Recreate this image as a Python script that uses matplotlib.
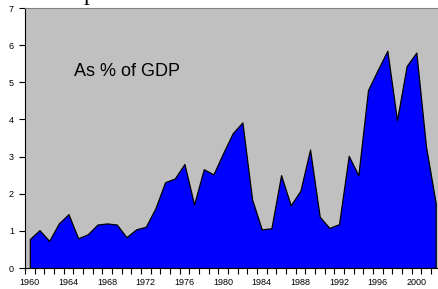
import numpy as np
import matplotlib.pyplot as plt

# data (% of GDP)
years = list(range(1960, 2003))
values = [0.78, 1.02, 0.73, 1.20, 1.45, 0.80, 0.91, 1.17, 1.20, 1.17,
          0.83, 1.04, 1.11, 1.61, 2.31, 2.41, 2.80, 1.71, 2.66, 2.52,
          3.09, 3.63, 3.92, 1.85, 1.04, 1.07, 2.50, 1.69, 2.08, 3.19,
          1.38, 1.08, 1.18, 3.02, 2.50, 4.79, 5.33, 5.85, 3.98, 5.44,
          5.80, 3.27, 1.75]
label_years = [1960, 1964, 1968, 1972, 1976, 1980, 1984, 1988, 1992, 1996, 2000]
y_ticks = [0, 1, 2, 3, 4, 5, 6, 7]

W, H = 439, 289
fig = plt.figure(figsize=(W / 100, H / 100), dpi=100)
plt.rcParams['font.family'] = ['Liberation Sans', 'DejaVu Sans']

# plot area: left 25px, top 8px, bottom 268px, category width ~9.66px
ax = fig.add_axes([25 / W, (H - 268) / H, 415.5 / W, 260 / H])
ax.set_facecolor('#c0c0c0')

ax.fill_between(years, values, 0, facecolor='#0000ff', edgecolor='black',
                linewidth=0.9)

ax.set_xlim(years[0] - 0.5, years[-1] + 0.5)
ax.set_ylim(0, 7)

ax.set_yticks(y_ticks)
ax.set_yticklabels([str(v) for v in y_ticks])

# tick marks between categories, labels centred on categories
ax.set_xticks(np.arange(years[0] - 0.5, years[-1] + 1, 1))
ax.set_xticklabels([])
ax.set_xticks(label_years, minor=True)
ax.set_xticklabels([str(y) for y in label_years], minor=True)
ax.tick_params(axis='x', which='major', length=4, width=0.8, direction='out')
ax.tick_params(axis='x', which='minor', length=0, pad=7, labelsize=6.5)
ax.tick_params(axis='y', length=4, width=0.8, direction='out', pad=4,
               labelsize=6.5)

ax.spines['left'].set_color('black')
ax.spines['bottom'].set_color('black')
ax.spines['top'].set_color('#808080')
ax.spines['right'].set_color('#808080')

ax.text(0.118, 0.754, 'As % of GDP', transform=ax.transAxes,
        ha='left', va='center', fontsize=13)

# cropped title, only a descender shows
fig.text(83.5 / W, 1.0, 'p', family='Liberation Serif', fontsize=17,
         ha='left', va='baseline')

fig.savefig('out.png', dpi=100)
